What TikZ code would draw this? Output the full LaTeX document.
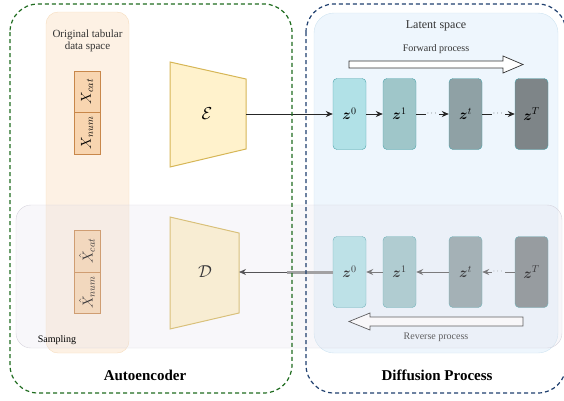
\documentclass[tikz,border=0pt]{standalone}
\usepackage{amsmath}
\usepackage{fontspec}
\setmainfont{Liberation Serif}
\usetikzlibrary{arrows.meta}

\definecolor{aegreen}{HTML}{1E6B1E}
\definecolor{dpblue}{HTML}{1F3F6E}
\definecolor{latentfill}{HTML}{EEF6FD}
\definecolor{latentline}{HTML}{CFE4F1}
\definecolor{tabfill}{HTML}{FDF1E4}
\definecolor{tabline}{HTML}{F6DCBC}
\definecolor{sampfill}{HTML}{E4E1EA}
\definecolor{sampline}{HTML}{D6D3DD}
\definecolor{codefill}{HTML}{FFF2CC}
\definecolor{codeline}{HTML}{D6B656}
\definecolor{colfill}{HTML}{F8D5B0}
\definecolor{colline}{HTML}{C8874A}
\definecolor{zline}{HTML}{4AA3AB}
\definecolor{zzero}{HTML}{B1E1E7}
\definecolor{zone}{HTML}{9FC6C9}
\definecolor{zmid}{HTML}{8FA1A5}
\definecolor{zlast}{HTML}{7E8588}

\newcommand{\fs}[1]{\fontsize{#1}{#1}\selectfont}

\tikzset{
  zbox/.style={draw=zline, rounded corners=4pt, minimum width=33pt, minimum height=71pt, inner sep=0pt, font=\fs{14}},
  colbox/.style={draw=colline, fill=colfill, rotate=90, minimum width=41.5pt, minimum height=26pt, inner sep=0pt, font=\fs{14}},
  arr/.style={-{Stealth[length=7pt,width=6pt]}, line width=0.8pt, black!85},
  backarr/.style={-{Stealth[length=7pt,width=6pt]}, line width=1pt, black!65},
  dotgap/.style={fill=latentfill, inner sep=1pt, font=\fs{8}},
  bigarrow/.style={draw=black!80, fill=white, line width=0.7pt},
  groupbox/.style={dash pattern=on 4pt off 3pt, line width=1.2pt, rounded corners=28pt}
}

\begin{document}
\begin{tikzpicture}[x=1pt,y=-1pt]
\useasboundingbox (0,0) rectangle (564,400);

% backgrounds
\draw [latentline, fill=latentfill, rounded corners=20pt] (314,13) rectangle (558,353);
\draw [tabline, fill=tabfill, rounded corners=12pt] (46,12) rectangle (129,353);
\node [font=\fs{11}, align=center, text=black!80] (tabtitle) at (87.5,41) {Original tabular\\[1pt]data space};
\node [font=\fs{12}, text=black!80] (latenttitle) at (436,26) {Latent space};

% tabular columns
\node [colbox] (xcat) at (87,91.5) {$X_{cat}$};
\node [colbox] (xnum) at (87,133) {$X_{num}$};
\node [colbox] (hxcat) at (87,251) {$\hat{X}_{cat}$};
\node [colbox] (hxnum) at (87,292.5) {$\hat{X}_{num}$};

% encoder / decoder
\draw [codeline, fill=codefill, line width=1pt] (170,62) -- (246,79) -- (246,149) -- (170,167) -- cycle;
\node [font=\fs{18}] (enc) at (207,114) {$\mathcal{E}$};
\coordinate (encout) at (246,114);
\draw [codeline, fill=codefill, line width=1pt] (170,217) -- (239,233) -- (239,313) -- (170,329) -- cycle;
\node [font=\fs{18}] (dec) at (205,272) {$\mathcal{D}$};
\coordinate (decin) at (239,272);

% forward chain
\node [zbox, fill=zzero] (zf0) at (349.5,114) {$\boldsymbol{z}^0$};
\node [zbox, fill=zone] (zf1) at (399.5,114) {$\boldsymbol{z}^1$};
\node [zbox, fill=zmid] (zft) at (465.5,114) {$\boldsymbol{z}^t$};
\node [zbox, fill=zlast] (zfT) at (531.5,114) {$\boldsymbol{z}^T$};
\draw [arr] (encout) -- (zf0);
\draw [arr] (zf0) -- (zf1);
\draw [arr] (zf1) -- node [dotgap] {$\cdots$} (zft);
\draw [arr] (zft) -- node [dotgap] {$\cdots$} (zfT);

\draw [bigarrow] (349,61) -- (503,61) -- (503,56) -- (523,64.5) -- (503,73) -- (503,68) -- (349,68) -- cycle;
\node [font=\fs{10}, text=black!80] (fwdlabel) at (436,49) {Forward process};

% reverse chain
\node [zbox, fill=zzero] (zr0) at (349.5,272) {$\boldsymbol{z}^0$};
\node [zbox, fill=zone] (zr1) at (399.5,272) {$\boldsymbol{z}^1$};
\node [zbox, fill=zmid] (zrt) at (465.5,272) {$\boldsymbol{z}^t$};
\node [zbox, fill=zlast] (zrT) at (531.5,272) {$\boldsymbol{z}^T$};
\draw [backarr] (zr1) -- (zr0);
\draw [backarr] (zrt) -- (zr1);
\draw [backarr] (zrT) -- node [dotgap] {$\cdots$} (zrt);
\coordinate (joint) at (287,272);
\draw [line width=3pt, black!45] (zr0) -- (joint);
\draw [arr] (joint) -- (decin);

\draw [bigarrow] (523,317) -- (370,317) -- (370,313) -- (349,321.5) -- (370,330) -- (370,326) -- (523,326) -- cycle;
\node [font=\fs{10}, text=black!80] (revlabel) at (436,337) {Reverse process};

% sampling overlay
\draw [sampline, fill=sampfill, fill opacity=0.25, rounded corners=15pt] (16,205) rectangle (562,348);
\node [font=\fs{10}] (samplabel) at (57,340) {Sampling};

% groups
\draw [groupbox, aegreen] (10,4) rectangle (292,393);
\draw [groupbox, dpblue] (306,4) rectangle (566,393);
\node [font=\fs{15}\bfseries] (aelabel) at (145,375) {Autoencoder};
\node [font=\fs{15}\bfseries] (dplabel) at (437,375) {Diffusion Process};
\end{tikzpicture}
\end{document}
